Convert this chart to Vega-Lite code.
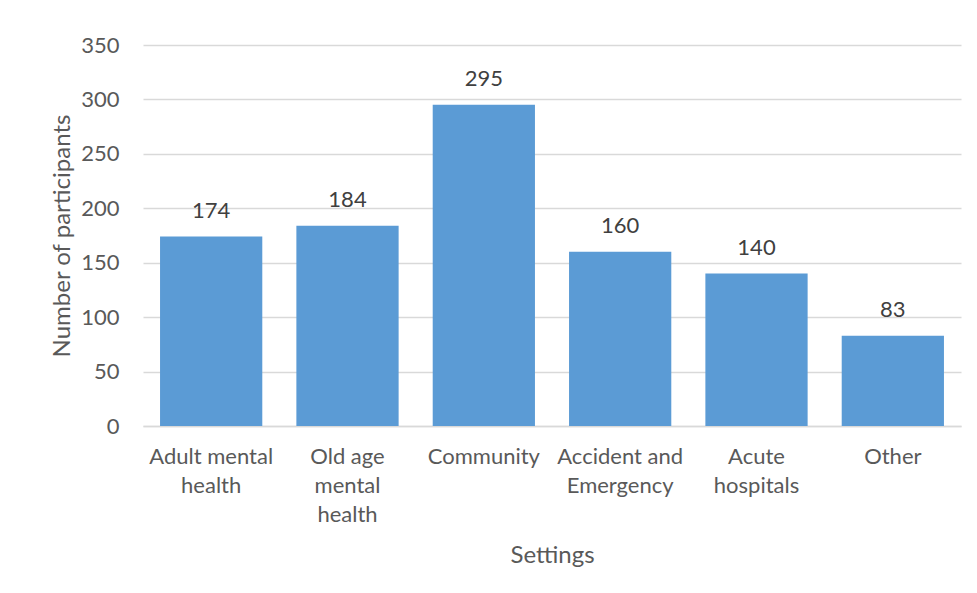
{
  "$schema": "https://vega.github.io/schema/vega-lite/v6.json",
  "width": 818,
  "height": 381,
  "autosize": {"type": "none"},
  "padding": {"left": 143, "top": 45, "right": 16, "bottom": 167},
  "background": "white",
  "config": {
    "view": {"stroke": null},
    "font": "Lato"
  },
  "data": {
    "values": [
      {"setting": "Adult mental health", "participants": 174},
      {"setting": "Old age mental health", "participants": 184},
      {"setting": "Community", "participants": 295},
      {"setting": "Accident and Emergency", "participants": 160},
      {"setting": "Acute hospitals", "participants": 140},
      {"setting": "Other", "participants": 83}
    ]
  },
  "encoding": {
    "x": {
      "field": "setting",
      "type": "nominal",
      "sort": null,
      "scale": {"paddingInner": 0.25, "paddingOuter": 0.125},
      "axis": {
        "title": "Settings",
        "titleFont": "Lato",
        "titleFontSize": 24,
        "titleFontWeight": "normal",
        "titleColor": "#595959",
        "titlePadding": 18,
        "labelAngle": 0,
        "labelFont": "Lato",
        "labelFontSize": 22,
        "labelColor": "#595959",
        "labelLineHeight": 29,
        "labelPadding": 20,
        "labelBaseline": "top",
        "ticks": false,
        "domainColor": "#d9d9d9",
        "domainWidth": 1.5,
        "labelExpr": "datum.value == 'Adult mental health' ? ['Adult mental', 'health'] : datum.value == 'Old age mental health' ? ['Old age', 'mental', 'health'] : datum.value == 'Accident and Emergency' ? ['Accident and', 'Emergency'] : datum.value == 'Acute hospitals' ? ['Acute', 'hospitals'] : datum.value"
      }
    },
    "y": {
      "field": "participants",
      "type": "quantitative",
      "scale": {"domain": [0, 350]},
      "axis": {
        "title": "Number of participants",
        "titleFont": "Lato",
        "titleFontSize": 24,
        "titleFontWeight": "normal",
        "titleColor": "#595959",
        "titlePadding": 6,
        "values": [0, 50, 100, 150, 200, 250, 300, 350],
        "labelFont": "Lato",
        "labelFontSize": 22,
        "labelColor": "#595959",
        "labelPadding": 24,
        "ticks": false,
        "domain": false,
        "gridColor": "#d9d9d9",
        "gridWidth": 1.5
      }
    }
  },
  "layer": [
    {"mark": {"type": "bar", "color": "#5B9BD5"}},
    {
      "mark": {"type": "text", "dy": -14, "baseline": "bottom", "fontSize": 22, "font": "Lato", "color": "#404040"},
      "encoding": {"text": {"field": "participants", "type": "quantitative"}}
    }
  ]
}
